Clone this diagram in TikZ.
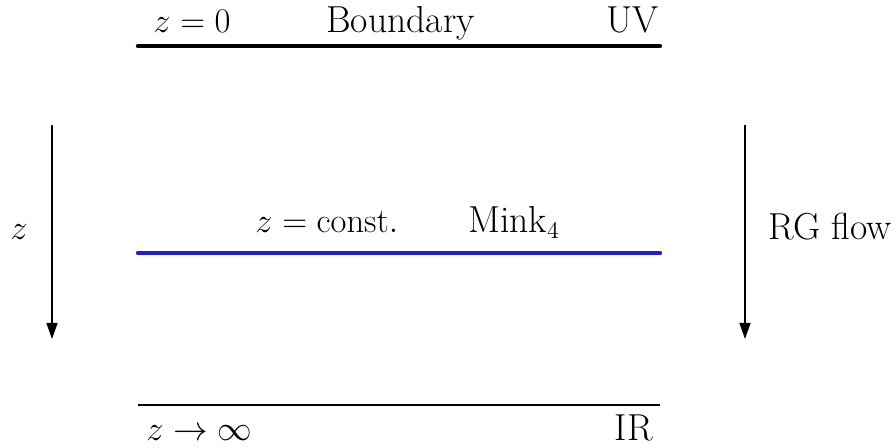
\documentclass[tikz,border=0pt]{standalone}
\usetikzlibrary{arrows.meta}
\definecolor{minkblue}{RGB}{32,32,200}
\begin{document}
\begin{tikzpicture}[x=0.5pt,y=-0.5pt,
  lbl/.style={inner sep=0pt,font=\fontsize{18.8}{23}\selectfont},
  sheet/.style={line width=2.2pt,line cap=round},
  flowarrow/.style={line width=0.7pt,-{Triangle[width=5.5pt,length=8pt]}}]
\useasboundingbox (0,0) rectangle (896,448);
% lines
\coordinate (uvL) at (138,46); \coordinate (uvR) at (660,46);
\coordinate (mkL) at (138,253); \coordinate (mkR) at (660,253);
\coordinate (irL) at (138,405); \coordinate (irR) at (660,405);
\draw[sheet] (uvL) -- (uvR);
\draw[sheet,minkblue] (mkL) -- (mkR);
\draw[line width=0.75pt] (irL) -- (irR);
% arrows
\coordinate (zT) at (52,125); \coordinate (zB) at (52,339);
\coordinate (rgT) at (745,125); \coordinate (rgB) at (745,339);
\draw[flowarrow] (zT) -- (zB);
\draw[flowarrow] (rgT) -- (rgB);
% labels
\node[lbl,anchor=base west] (z0) at (153,33) {$z=0$};
\node[lbl,anchor=base west] (bd) at (326,33) {Boundary};
\node[lbl,anchor=base east] (uv) at (659,33) {UV};
\node[lbl,anchor=base west] (zc) at (255,233) {$z=\mathrm{const.}$};
\node[lbl,anchor=base west] (mk) at (468,233) {Mink$_4$};
\node[lbl,anchor=base west] (zinf) at (146,441) {$z\rightarrow\infty$};
\node[lbl,anchor=base east] (ir) at (653,441) {IR};
\node[lbl,anchor=base west] (zl) at (10,240) {$z$};
\node[lbl,anchor=base west] (rg) at (768,240) {RG flow};
\end{tikzpicture}
\end{document}
